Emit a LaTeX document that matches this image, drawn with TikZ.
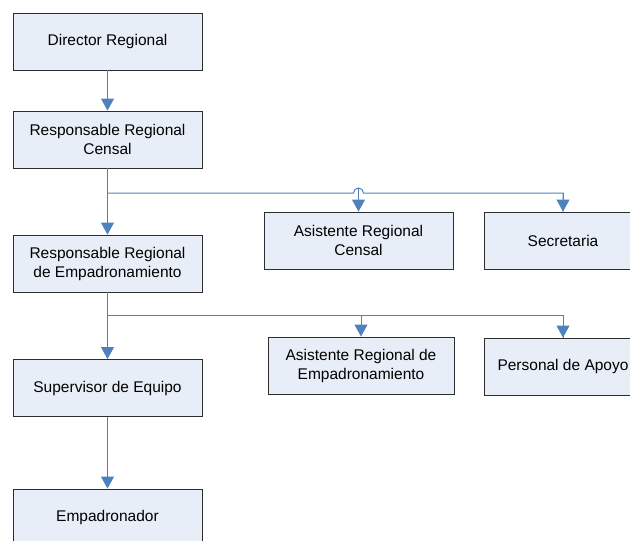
\documentclass[tikz,border=0pt]{standalone}
\usepackage{fontspec}
\setmainfont{Liberation Sans}
\usetikzlibrary{arrows.meta}
\definecolor{boxfill}{RGB}{232,238,248}
\definecolor{boxline}{RGB}{45,45,45}
\definecolor{linkblue}{RGB}{79,129,189}
\tikzset{
  orgbox/.style={draw=boxline, line width=0.9pt, fill=boxfill, minimum width=189pt,
    minimum height=57pt, align=center, inner sep=2pt, font=\fontsize{15.5}{19}\selectfont},
  link/.style={draw=linkblue, line width=1pt},
  linkarrow/.style={link, -{Triangle[width=13pt,length=12pt]}, linkblue}
}

\begin{document}
\begin{tikzpicture}[x=1pt, y=-1pt]
			%%%%% START %%%%%
			\useasboundingbox (0, 0) rectangle (630, 541);
			\clip (0, 0) rectangle (630, 541);
			
			\node[orgbox] (dir) at (107.5, 41.5) {Director Regional};
			\node[orgbox] (rrc) at (107.5, 139.5) {Responsable Regional\\Censal};
			\node[orgbox] (rre) at (107.5, 263.5) {Responsable Regional\\de Empadronamiento};
			\node[orgbox] (sup) at (107.5, 388) {Supervisor de Equipo};
			\node[orgbox] (emp) at (107.5, 517.5) {Empadronador};
			
			\node[orgbox] (arc) at (358.5, 240.5) {Asistente Regional\\Censal};
			\node[orgbox, minimum width=158pt] (sec) at (563, 240.5) {Secretaria};
			\node[orgbox, minimum width=186pt] (are) at (361, 365.5) {Asistente Regional de\\Empadronamiento};
			\node[orgbox, minimum width=158pt] (apo) at (563, 366.5) {Personal de Apoyo};
			
			\coordinate (bus1) at (107.5, 193);
			\coordinate (bus2) at (107.5, 315.5);
			
			% main column
			\draw[linkarrow] (dir) -- (rrc);
			\draw[linkarrow] (rrc) -- (rre);
			\draw[linkarrow] (rre) -- (sup);
			\draw[linkarrow] (sup) -- (emp);
			
			% staff under the regional censal
			\draw[link] (bus1) -- ([xshift=-5pt]arc.north |- bus1) arc (180:360:5) -| (sec.north);
			\draw[linkarrow] (sec.north) ++(0, -19) -- (sec.north);
			\draw[linkarrow] (arc.north |- bus1) ++(0, -5) -- (arc.north);
			
			% staff under the regional of empadronamiento
			\draw[link] (bus2) -| (apo.north);
			\draw[linkarrow] (are.north |- bus2) -- (are.north);
			\draw[linkarrow] (apo.north |- bus2) -- (apo.north);
			%%%%% END %%%%%
		\end{tikzpicture}
\end{document}
